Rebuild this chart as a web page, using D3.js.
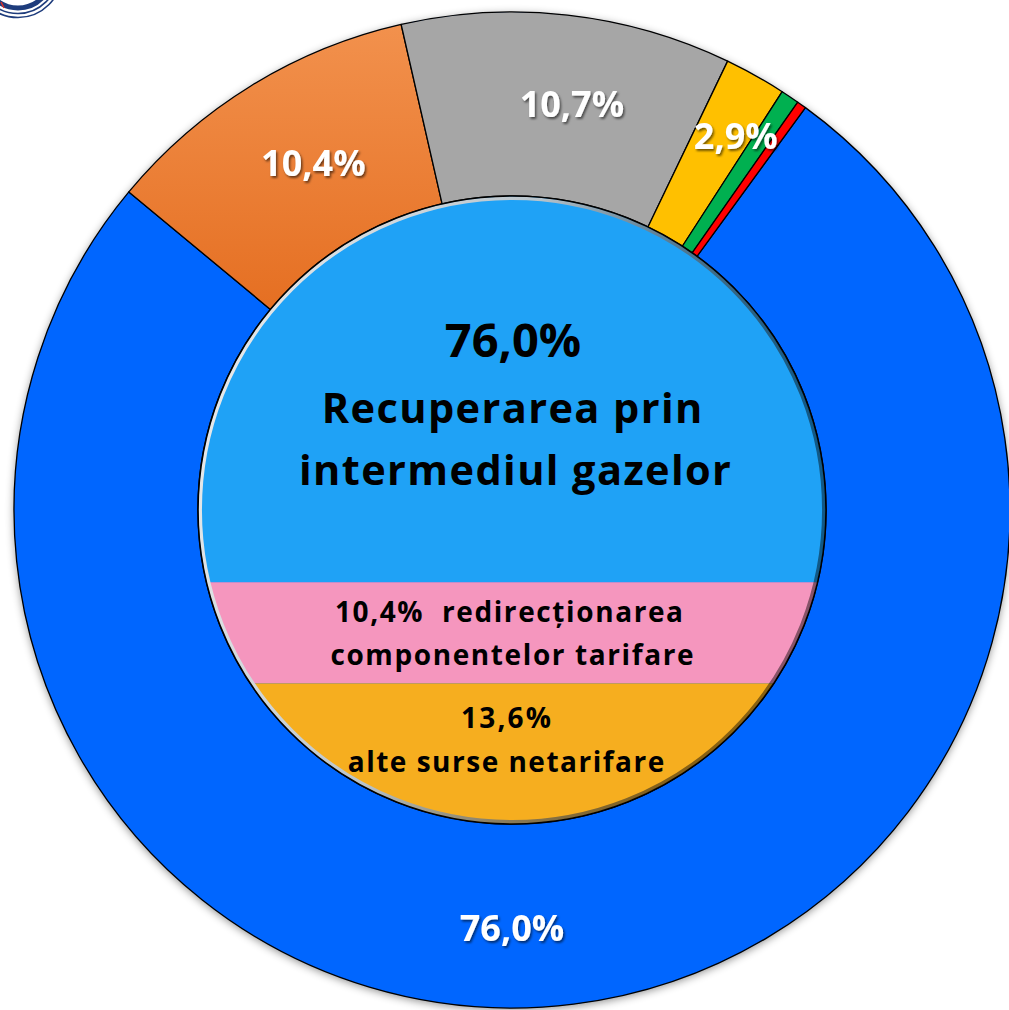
<!DOCTYPE html>
<html><head><meta charset="utf-8">
<script src="https://cdn.jsdelivr.net/npm/d3@7"></script>
<style>
body{margin:0;background:#fff;}
svg{display:block;}
</style>
</head><body>
<svg id="chart" width="1009" height="1010"></svg>
<script>
// ---------- DATA ----------
const outerCategories = ["Recuperarea prin intermediul gazelor", "Redirecționarea componentelor tarifare", "Alte surse netarifare (1)", "Alte surse netarifare (2)", "Alte surse netarifare (3)", "Alte surse netarifare (4)"];
const outerValues = [76.0, 10.4, 10.7, 2.0, 0.6, 0.3];
const outerColors = ["#0066FF", "#EE7D31", "#A6A6A6", "#FFC000", "#00B050", "#FF0000"];
// which outer slices share one percentage label
const outerLabelGroups = [[0], [1], [2], [3, 4, 5]];

const innerCategories = ["Recuperarea prin intermediul gazelor", "redirecționarea componentelor tarifare", "alte surse netarifare"];
const innerValues = [76.0, 10.4, 13.6];
const innerColors = ["#1FA2F6", "#F596BE", "#F6AE1F"];
const innerTexts = [["Recuperarea prin", "intermediul gazelor"], ["redirecționarea", "componentelor tarifare"], ["alte surse netarifare"]];

// ---------- LAYOUT ----------
const W = 1009, H = 1010;
const cx = 512, cy = 510, rOuter = 498, rInner = 314;
const locale = d3.formatLocale({decimal: ",", thousands: ".", grouping: [3], currency: ["", ""]});
const fmt = v => locale.format(".1f")(v) + "%";
const font = "'Open Sans', 'Noto Sans', sans-serif";

const svg = d3.select("#chart");
const defs = svg.append("defs");

const ds = defs.append("filter").attr("id", "ringShadow").attr("x", "-10%").attr("y", "-10%").attr("width", "120%").attr("height", "120%");
ds.append("feDropShadow").attr("dx", 0).attr("dy", 2).attr("stdDeviation", 4).attr("flood-color", "#000").attr("flood-opacity", 0.45);

const ts = defs.append("filter").attr("id", "textShadow").attr("x", "-20%").attr("y", "-30%").attr("width", "140%").attr("height", "160%");
ts.append("feDropShadow").attr("dx", 1.5).attr("dy", 2).attr("stdDeviation", 1.2).attr("flood-color", "#000").attr("flood-opacity", 0.55);

const og = defs.append("linearGradient").attr("id", "orangeGrad").attr("x1", 0).attr("y1", 0).attr("x2", 0).attr("y2", 1);
og.append("stop").attr("offset", "0%").attr("stop-color", "#F2914D");
og.append("stop").attr("offset", "100%").attr("stop-color", "#E56F22");

const rimGrad = defs.append("linearGradient").attr("id", "rimGrad").attr("x1", 0).attr("y1", 0).attr("x2", 1).attr("y2", 0.3);
rimGrad.append("stop").attr("offset", "0%").attr("stop-color", "#f2f2f2");
rimGrad.append("stop").attr("offset", "50%").attr("stop-color", "#b8c4cc");
rimGrad.append("stop").attr("offset", "100%").attr("stop-color", "rgba(0,0,0,0.45)");

defs.append("clipPath").attr("id", "innerClip")
  .append("circle").attr("cx", cx).attr("cy", cy).attr("r", rInner);

// logo fragment, top-left corner
const logo = svg.append("g").attr("fill", "none");
logo.append("circle").attr("cx", 18).attr("cy", -26).attr("r", 34).attr("stroke", "#1E3C7C").attr("stroke-width", 5);
logo.append("circle").attr("cx", 18).attr("cy", -26).attr("r", 39.5).attr("stroke", "#1E3C7C").attr("stroke-width", 1.6);
logo.append("circle").attr("cx", 18).attr("cy", -26).attr("r", 43.5).attr("stroke", "#1E3C7C").attr("stroke-width", 1.6);
logo.append("line").attr("x1", 1).attr("y1", 2).attr("x2", 4).attr("y2", 8).attr("stroke", "#D8302A").attr("stroke-width", 1.5);

// ---------- OUTER RING ----------
const startDeg = 36.1;
const pie = d3.pie().sort(null).value(d => d)
  .startAngle(startDeg * Math.PI / 180)
  .endAngle(startDeg * Math.PI / 180 + 2 * Math.PI);
const arcsData = pie(outerValues);
const arc = d3.arc().innerRadius(rInner).outerRadius(rOuter);

const ring = svg.append("g").attr("transform", `translate(${cx},${cy})`);
ring.append("circle").attr("r", rOuter).attr("fill", "#0066FF").attr("filter", "url(#ringShadow)");
ring.selectAll("path.slice").data(arcsData).join("path")
  .attr("class", "slice")
  .attr("d", arc)
  .attr("fill", (d, i) => i === 1 ? "url(#orangeGrad)" : outerColors[i])
  .attr("stroke", "#000").attr("stroke-width", 1.3).attr("stroke-linejoin", "round");

// outer labels
const labelTweak = [{angle: Math.PI, r: 418}, {dA: 1.8, r: 400}, {dA: 2.0, r: 410}, {dA: 0, r: 436}];
outerLabelGroups.forEach((grp, gi) => {
  const a0 = arcsData[grp[0]].startAngle, a1 = arcsData[grp[grp.length - 1]].endAngle;
  const total = d3.sum(grp, i => outerValues[i]);
  const t = labelTweak[gi];
  const ang = t.angle !== undefined ? t.angle : (a0 + a1) / 2 + t.dA * Math.PI / 180;
  const x = Math.sin(ang) * t.r, y = -Math.cos(ang) * t.r;
  ring.append("text")
    .attr("x", x).attr("y", y).attr("dy", "0.36em")
    .attr("text-anchor", "middle")
    .attr("font-family", font).attr("font-weight", 700).attr("font-size", 36)
    .attr("fill", "#fff").attr("filter", "url(#textShadow)")
    .text(fmt(total));
});

// ---------- INNER CIRCLE ----------
const inner = svg.append("g");
// band boundaries as fractions of the inner diameter (top -> bottom)
const bandEdges = [0, 0.615, 0.776, 1];
const yBand = d3.scaleLinear().domain([0, 1]).range([cy - rInner, cy + rInner]);
const bands = inner.append("g").attr("clip-path", "url(#innerClip)");
bands.selectAll("rect").data(innerValues).join("rect")
  .attr("x", cx - rInner).attr("width", 2 * rInner)
  .attr("y", (d, i) => yBand(bandEdges[i]))
  .attr("height", (d, i) => yBand(bandEdges[i + 1]) - yBand(bandEdges[i]))
  .attr("fill", (d, i) => innerColors[i]);
inner.append("circle").attr("cx", cx).attr("cy", cy).attr("r", rInner - 2.2)
  .attr("fill", "none").attr("stroke", "url(#rimGrad)").attr("stroke-width", 3.5);
inner.append("circle").attr("cx", cx).attr("cy", cy).attr("r", rInner)
  .attr("fill", "none").attr("stroke", "#000").attr("stroke-width", 1.6);

const txt = inner.append("g").attr("font-family", font).attr("font-weight", 700).attr("fill", "#000").attr("text-anchor", "middle");
function line(x, y, size, ls, s) {
  return txt.append("text").attr("x", x + ls / 2).attr("y", y).attr("font-size", size)
    .attr("letter-spacing", ls).attr("xml:space", "preserve").text(s);
}
// band 1
line(cx + 1, cy - 153, 47, 0, fmt(innerValues[0]));
line(cx, cy - 87, 41.5, 1.4, innerTexts[0][0]);
line(cx + 3, cy - 25, 41.5, 1.4, innerTexts[0][1]);
// band 2
line(cx - 3, cy + 112, 28, 1.6, fmt(innerValues[1]) + "\u00A0\u00A0" + innerTexts[1][0]);
line(cx, cy + 155, 28, 1.6, innerTexts[1][1]);
// band 3
line(cx - 6, cy + 218, 28, 2.2, fmt(innerValues[2]));
line(cx - 6, cy + 262, 28, 1.5, innerTexts[2][0]);
</script>
</body></html>
